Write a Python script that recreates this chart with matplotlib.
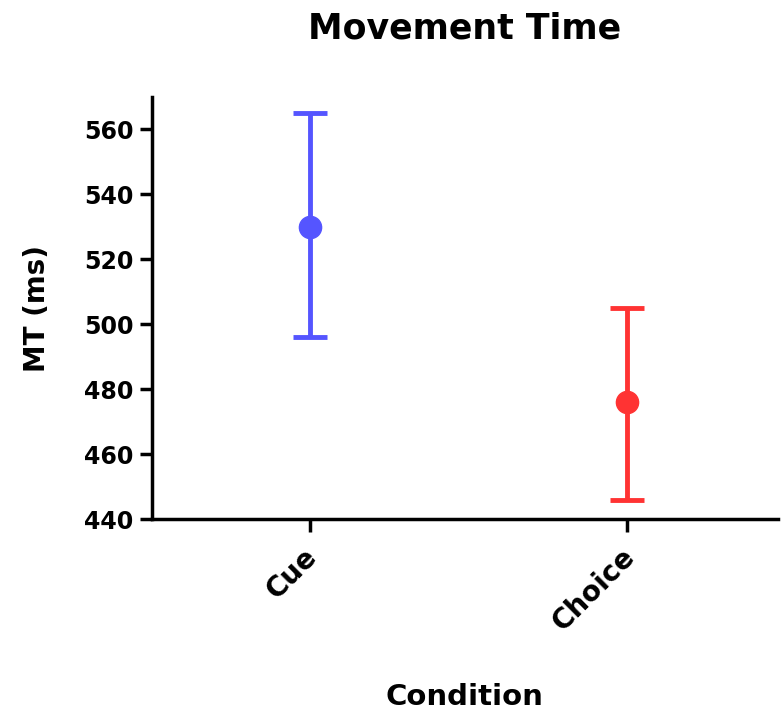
import matplotlib
matplotlib.use("Agg")
from matplotlib import pyplot as plt
from matplotlib import transforms

conditions = ["Cue", "Choice"]
means = [530, 476]
upper = [565, 505]
lower = [496, 446]
colors = ["#5555ff", "#ff3333"]

plt.rcParams['font.family'] = ['DejaVu Sans']
plt.rcParams['font.weight'] = 'bold'

fig = plt.figure(figsize=(7.82, 7.13), dpi=100)
ax = fig.add_axes([0.194, 0.272, 0.801, 0.592])

for i, cond in enumerate(conditions):
    err = [[means[i] - lower[i]], [upper[i] - means[i]]]
    ax.errorbar([i], [means[i]], yerr=err, fmt='o', color=colors[i],
                markersize=16, elinewidth=3.5, capsize=12, capthick=3.5)

ax.set_xlim(-0.5, 1.475)
ax.set_ylim(440, 570)
ax.set_yticks([440, 460, 480, 500, 520, 540, 560])
ax.set_xticks(range(len(conditions)))
ax.set_xticklabels(conditions, rotation=45, ha='right', rotation_mode='anchor')

ax.spines['top'].set_visible(False)
ax.spines['right'].set_visible(False)
for s in ['left', 'bottom']:
    ax.spines[s].set_linewidth(2.5)
ax.tick_params(width=2.5, length=9, labelsize=17, pad=4)
ax.tick_params(axis='x', labelsize=20, pad=8)

# nudge rotated labels a bit left, like the original
shift = transforms.ScaledTranslation(-7 / 100, 0, fig.dpi_scale_trans)
for lab in ax.get_xticklabels():
    lab.set_transform(lab.get_transform() + shift)

ax.set_title("Movement Time", fontsize=25, fontweight='bold', pad=42)
ax.set_xlabel("Condition", fontsize=21, fontweight='bold', labelpad=34)
ax.set_ylabel("MT (ms)", fontsize=20, fontweight='bold', labelpad=24)

fig.savefig("out.png", dpi=100)
